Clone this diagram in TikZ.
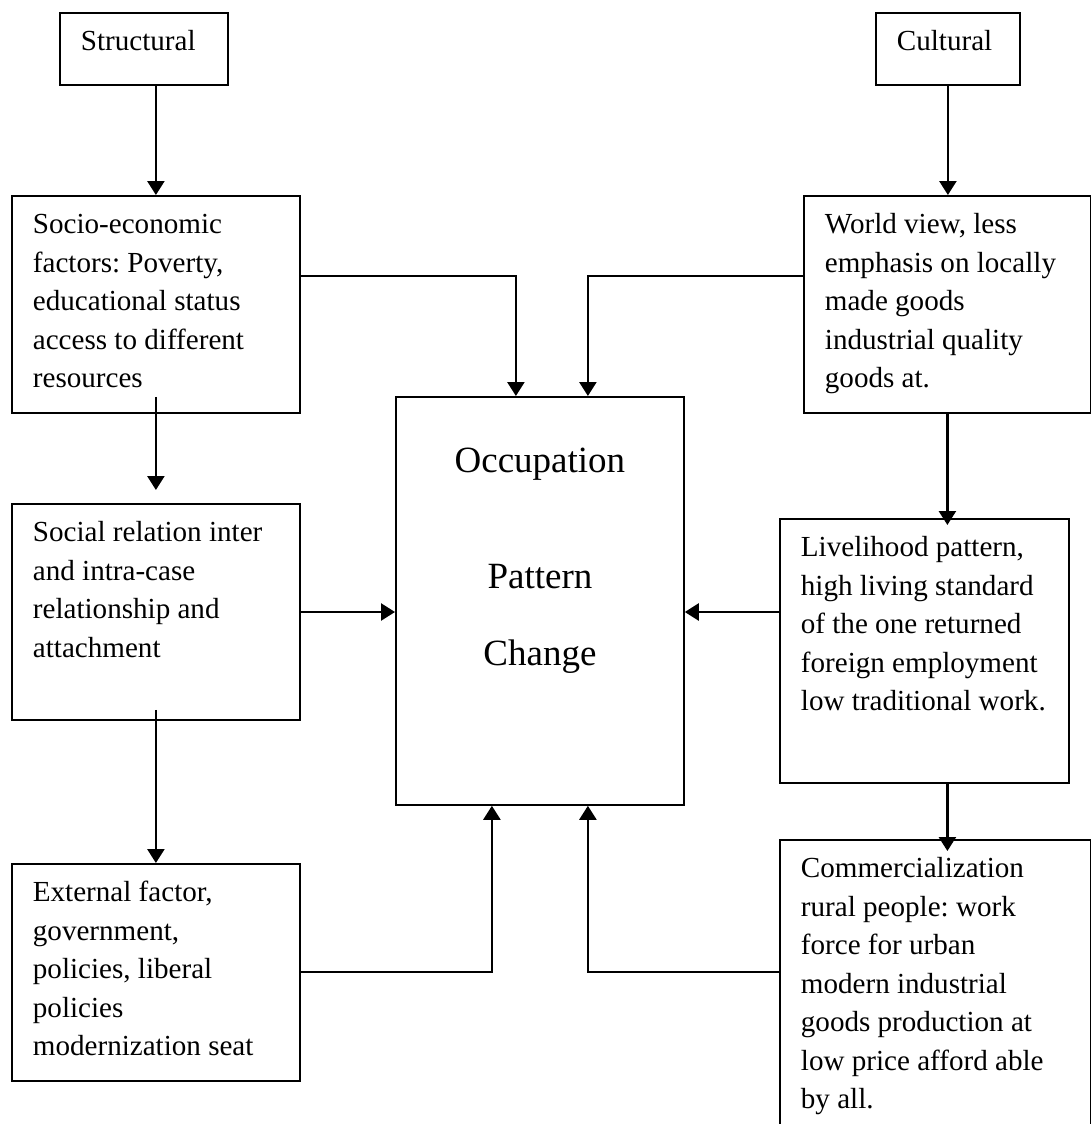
\documentclass[tikz,border=0pt]{standalone}
\usepackage{fontspec}
\setmainfont{Liberation Serif}
\usetikzlibrary{arrows.meta}
\frenchspacing

\newcommand{\boxtext}[3]{\parbox[c][#2][t]{#1}{\raggedright\leftskip=10.5pt\rule{0pt}{19pt}#3}}

\begin{document}
\begin{tikzpicture}[x=0.5pt,y=-0.5pt]

    \tikzset{factor/.style = {draw, line width=0.9pt, inner sep=0pt, anchor=north west, font=\fontsize{14.55}{19.25}\selectfont}}
    \tikzset{link/.style = {line width=1.25pt, -{Triangle[length=7pt,width=8.5pt]}}}
    \useasboundingbox (0,0) rectangle (1091,1124);
    \node[factor] (struct) at (59,12) {\boxtext{84pt}{36pt}{Structural}};
    \node[factor] (cult) at (875,12) {\boxtext{72pt}{36pt}{Cultural}};
    \node[factor] (socio) at (11,195) {\boxtext{144pt}{108.5pt}{Socio-economic\\ factors: Poverty,\\ educational status\\ access to different\\ resources}};
    \node[factor] (world) at (803,195) {\boxtext{143.5pt}{108.5pt}{World view, less\\ emphasis on locally\\ made goods\\ industrial quality\\ goods at.}};
    \node[factor] (social) at (11,503) {\boxtext{144pt}{108pt}{Social relation inter\\ and intra-case\\ relationship and\\ attachment}};
    \node[factor] (external) at (11,863) {\boxtext{144pt}{108.5pt}{External factor,\\ government,\\ policies, liberal\\ policies\\ modernization seat}};
    \node[factor] (liveli) at (779,518) {\boxtext{144.5pt}{132pt}{Livelihood pattern,\\ high living standard\\ of the one returned\\ foreign employment\\ low traditional work.}};
    \node[factor] (comm) at (779,839) {\boxtext{155.5pt}{150pt}{Commercialization\\ rural people: work\\ force for urban\\ modern industrial\\ goods production at\\ low price afford able\\ by all.}};
    \node[factor, font=\fontsize{18.5}{38.5}\selectfont] (occ) at (395,396) {\parbox[c][204pt][t]{144pt}{\centering\rule{0pt}{38pt}Occupation\\[19.5pt] Pattern\\ Change}};
    %edges
    \draw[link] (struct.south -| socio.north) -- (socio.north);
    \draw[link] (cult.south) -- (cult.south |- world.north);
    \draw[link, shorten >=6.5pt] ([yshift=8.5pt]socio.south) -- (social.north);
    \draw[link] ([yshift=5.5pt]social.south) -- (external.north);
    \draw[link, shorten >=-3.5pt] (world.south) -- (world.south |- liveli.north);
    \draw[link, shorten >=-6pt] (world.south |- liveli.south) -- (world.south |- comm.north);
    \draw[link] (socio.east |- 0,276) -| ([xshift=-12pt]occ.north);
    \draw[link] (world.west |- 0,276) -| ([xshift=24pt]occ.north);
    \draw[link] (social.east |- 0,612) -- (occ.west |- 0,612);
    \draw[link] (liveli.west |- 0,612) -- (occ.east |- 0,612);
    \draw[link] (external.east |- 0,972) -| ([xshift=-24pt]occ.south);
    \draw[link] (comm.west |- 0,972) -| ([xshift=24pt]occ.south);
\end{tikzpicture}
\end{document}
